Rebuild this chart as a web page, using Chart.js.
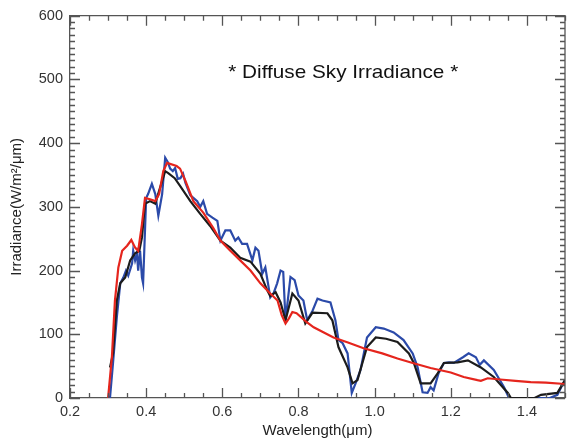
<!DOCTYPE html>
<html>
<head>
<meta charset="utf-8">
<script src="https://cdn.jsdelivr.net/npm/chart.js@4/dist/chart.umd.min.js"></script>
<style>
  body { margin: 0; background: #fff; }
</style>
</head>
<body>
<canvas id="myChart" width="567" height="441"></canvas>
<script>
// diffuse sky irradiance : model (red) vs measurements (black, blue)

const redWl = [0.3, 0.31, 0.318, 0.327, 0.337, 0.35, 0.361, 0.371, 0.379, 0.389, 0.397, 0.41, 0.424, 0.434, 0.445, 0.455, 0.48, 0.489, 0.503, 0.524, 0.55, 0.576, 0.595, 0.621, 0.647, 0.674, 0.7, 0.726, 0.745, 0.756, 0.766, 0.775, 0.784, 0.795, 0.82, 0.84, 0.892, 0.93, 0.971, 1.02, 1.06, 1.1, 1.147, 1.2, 1.234, 1.27, 1.279, 1.297, 1.33, 1.37, 1.41, 1.45, 1.5];
const redVal = [0, 64, 153, 205, 231, 239, 248, 236, 231, 273, 314, 312, 309, 320, 356, 369, 364, 360, 341, 309, 291, 267, 247, 231, 216, 200, 180, 164, 153, 130, 117, 125, 135, 133, 120, 111, 95, 87, 78, 70, 62, 55, 47, 40, 33, 28, 27, 31, 29, 27, 25, 24, 22];

const blackWl = [0.305, 0.313, 0.323, 0.332, 0.345, 0.358, 0.371, 0.382, 0.389, 0.397, 0.41, 0.424, 0.434, 0.45, 0.458, 0.475, 0.489, 0.516, 0.542, 0.568, 0.595, 0.621, 0.647, 0.674, 0.7, 0.718, 0.726, 0.74, 0.753, 0.766, 0.784, 0.8, 0.818, 0.837, 0.876, 0.889, 0.905, 0.929, 0.942, 0.955, 0.98, 1.003, 1.03, 1.06, 1.09, 1.103, 1.121, 1.147, 1.166, 1.182, 1.218, 1.245, 1.279, 1.313, 1.35, 1.358, 1.42, 1.437, 1.48, 1.5];
const blackVal = [48, 70, 153, 180, 189, 216, 227, 231, 252, 305, 309, 305, 325, 356, 353, 345, 333, 309, 289, 270, 247, 236, 220, 214, 195, 169, 160, 166, 150, 122, 164, 153, 117, 134, 133, 122, 80, 48, 23, 28, 80, 95, 93, 88, 70, 55, 23, 23, 39, 55, 56, 59, 48, 33, 8, 0, 0, 5, 8, 28];

const blueWl = [0.305, 0.313, 0.323, 0.332, 0.34, 0.347, 0.353, 0.363, 0.366, 0.371, 0.376, 0.379, 0.384, 0.389, 0.392, 0.4, 0.405, 0.415, 0.424, 0.432, 0.442, 0.45, 0.457, 0.463, 0.47, 0.476, 0.483, 0.49, 0.497, 0.503, 0.516, 0.524, 0.534, 0.542, 0.55, 0.56, 0.574, 0.587, 0.595, 0.608, 0.621, 0.634, 0.642, 0.652, 0.665, 0.679, 0.687, 0.695, 0.705, 0.713, 0.726, 0.735, 0.744, 0.753, 0.76, 0.766, 0.779, 0.79, 0.8, 0.813, 0.823, 0.837, 0.85, 0.863, 0.884, 0.897, 0.905, 0.916, 0.929, 0.94, 0.95, 0.963, 0.98, 1.003, 1.024, 1.05, 1.076, 1.1, 1.113, 1.126, 1.139, 1.147, 1.155, 1.168, 1.182, 1.195, 1.208, 1.232, 1.247, 1.266, 1.276, 1.287, 1.313, 1.34, 1.353, 1.46, 1.48, 1.49, 1.5];
const blueVal = [0, 55, 127, 180, 189, 200, 192, 211, 231, 216, 227, 200, 231, 189, 180, 314, 320, 336, 320, 286, 320, 377, 370, 360, 356, 361, 344, 345, 352, 338, 318, 314, 309, 300, 309, 289, 283, 278, 247, 263, 263, 247, 252, 242, 242, 216, 236, 231, 195, 205, 158, 165, 180, 200, 198, 122, 190, 185, 161, 153, 122, 137, 156, 153, 150, 122, 91, 86, 70, 8, 23, 44, 95, 111, 109, 103, 91, 70, 48, 9, 8, 17, 12, 39, 55, 56, 55, 64, 70, 64, 52, 59, 44, 17, 0, 0, 5, 17, 28];

const xTicks = [0.2, 0.4, 0.6, 0.8, 1.0, 1.2, 1.4];
const yTicks = [0, 100, 200, 300, 400, 500, 600];

function toPoints(wl, val) {
  return wl.map((w, i) => ({ x: w, y: val[i] }));
}

// ticks vers l'interieur sur les 4 cotes + cadre + titre dans le graphe
const frameTicks = {
  id: "frameTicks",
  afterDraw(chart) {
    const ctx = chart.ctx;
    const { left, right, top, bottom } = chart.chartArea;
    const xs = chart.scales.x;
    const ys = chart.scales.y;
    ctx.save();
    ctx.strokeStyle = "#555";
    ctx.lineWidth = 1.3;
    ctx.beginPath();
    ctx.moveTo(left, top);
    ctx.lineTo(right, top);
    ctx.lineTo(right, bottom);
    ctx.stroke();
    ctx.beginPath();
    for (let i = 0; i <= 26; i++) {
      const v = 0.2 + i * 0.05;
      const px = Math.round(xs.getPixelForValue(v)) + 0.5;
      const len = i % 4 === 0 ? 10 : 5;
      ctx.moveTo(px, bottom);
      ctx.lineTo(px, bottom - len);
      ctx.moveTo(px, top);
      ctx.lineTo(px, top + len);
    }
    for (let i = 0; i <= 60; i++) {
      const py = Math.round(ys.getPixelForValue(i * 10)) + 0.5;
      const len = i % 10 === 0 ? 10 : 5;
      ctx.moveTo(left, py);
      ctx.lineTo(left + len, py);
      ctx.moveTo(right, py);
      ctx.lineTo(right - len, py);
    }
    ctx.stroke();

    // titre, un peu etire en largeur comme l'original
    ctx.fillStyle = "#111";
    ctx.font = "18.5px 'Liberation Sans', Arial, sans-serif";
    ctx.textAlign = "center";
    ctx.textBaseline = "middle";
    ctx.translate(left + 0.552 * (right - left), top + 57);
    ctx.scale(1.12, 1);
    ctx.fillText("* Diffuse Sky Irradiance *", 0, 0);
    ctx.restore();
  },
};

const tickFont = { family: "'Liberation Sans', Arial, sans-serif", size: 14.5 };
const titleFont = { family: "'Liberation Sans', Arial, sans-serif", size: 15 };

const config = {
  type: "line",
  data: {
    datasets: [
      {
        label: "model",
        data: toPoints(redWl, redVal),
        borderColor: "#e5251d",
        borderWidth: 2.2,
      },
      {
        label: "mean",
        data: toPoints(blackWl, blackVal),
        borderColor: "#1c1c1c",
        borderWidth: 2.2,
      },
      {
        label: "measured",
        data: toPoints(blueWl, blueVal),
        borderColor: "#2b4aa9",
        borderWidth: 2.2,
      },
    ],
  },
  options: {
    responsive: false,
    animation: false,
    devicePixelRatio: 1,
    layout: { padding: { top: 15, right: 2, left: 0, bottom: 0 } },
    elements: { point: { radius: 0 }, line: { tension: 0 } },
    plugins: { legend: { display: false }, tooltip: { enabled: false } },
    scales: {
      x: {
        type: "linear",
        min: 0.2,
        max: 1.5,
        afterFit: (s) => { s.height = 43; },
        afterBuildTicks: (s) => { s.ticks = xTicks.map((v) => ({ value: v })); },
        grid: { display: false, drawTicks: false },
        border: { display: true, color: "#555", width: 1.3 },
        ticks: {
          font: tickFont,
          color: "#333",
          padding: 5,
          maxRotation: 0,
          callback: (v) => Number(v).toFixed(1),
        },
        title: {
          display: true,
          text: "Wavelength(μm)",
          font: titleFont,
          color: "#222",
          padding: { top: 0, bottom: 1 },
        },
      },
      y: {
        min: 0,
        max: 600,
        afterFit: (s) => { s.width = 70; },
        afterBuildTicks: (s) => { s.ticks = yTicks.map((v) => ({ value: v })); },
        grid: { display: false, drawTicks: false },
        border: { display: true, color: "#555", width: 1.3 },
        ticks: { font: tickFont, color: "#333", padding: 7 },
        title: {
          display: true,
          text: "Irradiance(W/m²/μm)",
          font: titleFont,
          color: "#222",
          padding: { top: 8, bottom: 0 },
        },
      },
    },
  },
  plugins: [frameTicks],
};

const myChart = new Chart(document.getElementById("myChart"), config);
</script>
</body>
</html>
